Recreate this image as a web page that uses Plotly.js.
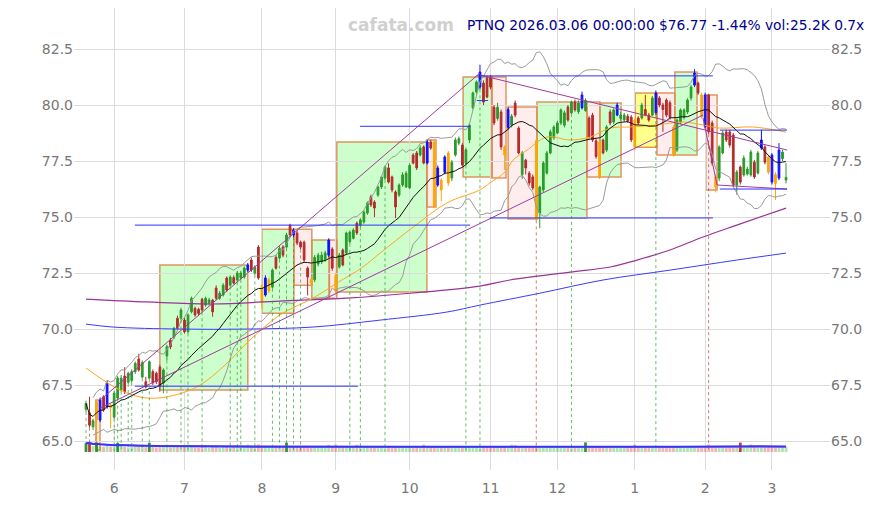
<!DOCTYPE html>
<html><head><meta charset="utf-8">
<script src="https://cdn.plot.ly/plotly-3.0.1.min.js"></script>
<style>html,body{margin:0;padding:0;background:#fff}#chart{width:875px;height:505px}</style>
</head><body><div id="chart"></div>
<script>
// ---- data (index = trading day, 2025-05-20 .. 2026-03-06) ----
const monthTickIdx = [8, 28, 50, 71, 92, 115, 134, 156, 176, 195];
const monthTickLabels = ['6','7','8','9','10','11','12','1','2','3'];
const priceTicks = [65.0, 67.5, 70.0, 72.5, 75.0, 77.5, 80.0, 82.5];

const openP = [66.42,66.26,65.64,65.94,65.94,66.98,66.52,66.60,66.07,66.92,
67.28,67.90,67.63,67.70,68.10,68.66,67.86,67.65,67.81,68.10,
68.03,68.30,67.59,68.80,69.50,69.63,70.48,70.48,70.40,69.88,
70.77,70.92,70.88,71.33,71.07,71.15,71.29,71.83,71.38,71.52,
72.28,71.96,72.30,72.19,72.28,72.32,72.63,73.08,72.50,73.66,
71.90,71.52,71.70,71.87,73.20,73.17,73.66,73.66,74.64,74.20,
74.29,73.88,73.88,72.72,72.20,72.20,72.90,73.00,73.10,73.30,
73.57,72.40,72.77,73.53,73.40,73.90,74.05,74.73,74.64,74.78,
75.18,75.90,75.67,75.98,76.34,76.74,77.19,76.79,76.12,75.98,
76.43,76.34,76.30,77.77,77.86,77.77,78.13,77.41,78.35,78.35,
76.43,76.65,77.00,77.86,76.74,77.77,78.30,78.21,77.40,78.44,
79.87,80.58,80.80,80.98,81.20,81.25,79.90,79.40,79.69,78.13,
79.00,79.10,80.09,78.97,76.90,77.54,76.96,76.79,78.40,75.18,
76.21,76.96,77.86,78.53,78.75,79.20,79.10,79.91,79.65,80.13,
79.70,79.87,79.75,79.42,79.55,78.40,78.35,78.44,77.99,79.69,
79.24,79.55,79.40,79.33,79.50,79.46,79.33,79.42,79.42,79.80,
79.55,79.55,79.65,80.31,80.00,80.22,80.10,79.00,77.99,79.24,
79.45,79.69,80.31,80.89,80.98,80.45,80.45,80.45,79.20,76.79,
76.74,77.86,78.80,78.80,78.66,76.43,77.23,76.88,76.92,76.88,
77.45,76.96,78.08,78.13,77.68,77.77,76.90,76.74,77.60,76.65];
const highP = [66.80,66.98,66.00,66.85,66.95,67.05,67.70,66.70,67.25,67.90,
67.95,68.30,68.10,68.20,68.55,68.90,68.60,67.87,68.60,68.20,
68.10,68.40,68.25,69.30,69.60,70.10,70.60,70.95,70.50,70.70,
71.45,71.00,70.95,71.40,71.45,71.40,71.35,71.95,71.70,72.05,
72.35,72.40,72.40,72.60,72.60,72.80,72.95,73.20,72.85,73.75,
72.00,72.40,72.30,72.70,73.30,73.70,73.75,74.30,74.70,74.50,
74.40,73.95,73.95,72.80,72.30,73.30,73.40,73.45,73.50,74.05,
73.65,72.50,73.40,73.60,74.35,74.40,74.50,74.80,74.95,75.30,
75.70,76.00,75.75,76.40,76.85,77.30,77.40,76.85,76.20,76.50,
77.00,77.05,77.40,77.85,77.95,78.20,78.20,78.45,78.45,78.45,
77.30,76.75,77.75,77.95,77.55,78.55,78.60,78.30,78.10,79.20,
80.60,81.10,81.80,81.10,81.30,81.35,80.00,80.10,79.80,78.20,
79.90,79.60,80.20,79.05,77.95,77.60,77.05,76.90,78.50,76.40,
77.50,77.95,78.90,79.10,79.30,79.85,79.75,80.00,80.20,80.25,
80.20,80.60,80.30,79.50,79.65,78.50,78.45,78.50,79.10,79.80,
79.85,80.10,79.70,79.65,79.60,79.55,79.40,79.50,80.10,80.45,
79.65,80.40,80.65,80.40,80.10,80.30,80.20,79.10,79.40,79.85,
79.85,80.30,80.90,81.60,81.05,80.55,80.55,80.50,79.30,76.90,
78.20,78.85,78.90,78.90,78.75,77.10,77.30,77.75,77.25,78.00,
77.55,77.95,78.90,78.20,77.75,77.85,77.00,78.30,78.00,77.40];
const lowP = [66.30,65.60,65.50,64.60,65.85,66.30,66.45,65.58,66.00,66.85,
67.20,67.10,67.55,67.60,68.00,68.10,67.80,67.35,67.75,67.50,
67.55,67.20,67.14,68.60,69.10,69.55,69.95,70.40,69.80,69.80,
70.70,70.55,70.60,70.75,71.00,71.05,70.55,71.30,71.30,71.45,
71.65,71.90,72.00,72.10,72.20,72.25,72.55,72.55,72.40,72.20,
70.90,71.45,71.60,71.80,72.65,73.10,73.20,73.60,74.10,74.10,
73.75,73.55,73.00,71.50,71.90,72.10,72.80,72.90,73.00,73.20,
72.60,71.60,72.70,72.80,73.30,73.80,74.00,74.20,74.55,74.70,
75.10,75.45,75.00,75.90,76.25,76.65,76.50,76.10,74.95,75.90,
76.35,76.30,76.25,77.35,77.10,77.70,77.35,77.35,78.00,75.40,
76.35,75.70,76.90,76.40,76.60,77.70,78.20,77.25,77.30,78.30,
79.80,80.50,80.70,80.00,80.30,80.70,79.10,79.30,78.00,77.10,
78.90,79.00,79.45,77.80,76.70,76.90,76.40,76.20,74.85,74.50,
76.10,76.90,77.80,78.45,78.70,79.10,79.00,79.25,79.60,79.70,
79.60,79.80,79.70,78.50,78.35,77.60,76.70,77.80,77.90,79.10,
79.15,79.50,79.30,79.25,79.20,78.35,78.00,79.10,79.35,79.50,
79.25,79.50,79.55,79.90,78.80,79.45,79.35,77.70,77.90,79.15,
79.35,79.60,80.20,80.80,80.45,79.40,78.95,78.70,77.30,76.10,
76.60,77.80,78.35,78.10,76.35,76.00,76.45,76.80,76.85,76.80,
76.70,76.90,78.00,77.35,76.90,76.45,75.76,76.65,77.50,76.50];
const closeP = [66.68,65.71,65.91,66.76,66.83,66.40,67.59,66.50,67.14,67.81,
67.81,67.19,68.03,68.10,68.47,68.17,68.50,67.42,68.54,67.60,
67.65,67.45,68.17,69.21,69.20,70.03,70.03,70.85,69.88,70.63,
71.37,70.63,70.70,70.85,71.37,71.30,70.77,71.38,71.60,71.96,
71.74,72.32,72.05,72.50,72.50,72.72,72.86,72.63,72.75,72.28,
71.20,72.28,72.20,72.63,72.72,73.60,73.30,74.20,74.20,74.42,
73.84,73.66,73.08,72.32,72.05,73.20,73.30,73.30,73.40,73.97,
72.72,71.70,73.30,72.86,74.29,74.33,74.42,74.29,74.87,75.22,
75.63,75.54,75.40,76.34,76.79,77.23,76.56,76.21,75.45,76.43,
76.88,76.96,77.30,77.41,77.19,78.08,77.41,78.35,78.08,75.45,
77.19,76.21,77.68,76.52,77.45,78.44,78.50,77.32,78.00,79.10,
80.54,81.03,81.47,80.13,80.36,80.80,79.20,79.90,78.13,77.77,
79.80,79.50,79.55,77.86,77.86,77.19,76.52,76.30,74.90,76.34,
77.41,77.86,78.80,79.02,79.20,79.78,79.65,79.33,80.13,79.78,
80.09,80.45,80.20,78.57,78.44,77.70,76.79,77.86,79.02,79.20,
79.78,80.00,79.55,79.55,79.30,78.44,78.13,79.20,80.00,79.55,
79.33,80.31,80.54,80.00,79.80,79.55,79.45,77.77,79.33,79.78,
79.78,80.22,80.80,81.43,80.54,79.46,79.02,78.80,77.41,76.34,
78.13,78.75,78.44,78.21,76.43,77.01,76.56,77.63,77.14,77.90,
76.79,77.86,78.44,77.45,77.00,76.56,76.50,77.99,77.90,76.77];
const volumeK = [44,46,30,47,28,26,30,27,25,45,
24,26,23,25,27,26,36,24,46,27,
23,25,26,28,24,27,25,23,26,24,
27,23,22,25,24,21,26,25,22,24,
26,23,24,25,22,24,37,25,26,38,
27,29,26,24,25,23,26,47,28,25,
27,24,26,25,22,24,23,25,24,36,
27,37,24,26,25,23,24,36,25,24,
26,23,25,24,26,22,25,24,27,23,
24,26,25,23,24,27,37,25,26,30,
27,25,24,28,23,25,24,26,25,27,
28,30,26,27,25,24,26,25,27,26,
24,37,35,26,27,25,24,26,31,27,
25,24,26,23,25,24,22,25,26,24,
23,25,48,26,27,25,28,24,26,25,
24,26,23,25,24,27,37,26,24,25,
23,25,26,24,25,27,26,28,25,24,
23,25,27,26,28,25,27,38,30,26,
27,25,24,26,28,25,47,24,26,38,
25,24,27,26,25,28,27,29,26,25.2];
const volHighlightIdx = [0,1,3,9,18,57,142,186];
const blueCandleIdx = [4,6,46,51,59,69,97,100,102,112,120,141,151,162,173,176,192,195,197];
const orangeCandleIdx = [3,7,50,52,64,71,99,101,103,119,128,146,156,167,175,179,194,196];

// long moving averages (index, value)
const ma50Idx = [0,9.7,17.3,25.3,32.4,39.5,46.6,55.1,64.5,71.3,78.7,83.6,93,102.6,112,114.8,119.1,121.4,125.4,131,137.6,143.3,149,154.6,162.3,169.7,175.4,180.2,189.6,199];
const ma50Val = [68.26,67.28,66.92,67.05,67.50,68.39,69.51,70.63,71.38,72.05,72.77,73.39,74.55,75.63,76.21,76.52,77.01,77.54,77.99,78.57,78.44,78.57,78.97,79.02,79.11,79.24,79.11,78.97,79.02,78.79];
const ma100Idx = [0,17.3,36,55,74,93,112,120.5,137.6,149,156.6,166,175.4,185,199];
const ma100Val = [71.34,71.21,71.12,71.25,71.38,71.61,71.92,72.19,72.54,72.77,73.08,73.53,74.11,74.64,75.40];
const ma200Idx = [0,7.7,26.7,45.8,64.5,83.6,102.6,112,129,147,166,185,199];
const ma200Val = [70.22,70.09,70.00,70.00,70.09,70.40,70.76,71.07,71.60,72.19,72.63,73.08,73.39];

// trend lines [startIdx, startPrice, endIdx, endPrice]
const trendLines = [
  [4, 66.83, 112, 81.43],
  [4, 66.47, 175.4, 79.55],
  [112, 81.34, 199.3, 77.99],
  [175.4, 79.42, 179.4, 76.43],
  [179.4, 76.43, 199.3, 76.25]
];
// horizontal levels [startIdx, endIdx, price]
const levelLines = [
  [13.9, 109.2, 74.64], [77.9, 109.2, 79.05], [13.9, 77.3, 67.45],
  [111.1, 178.2, 81.30], [111.1, 114.3, 80.20], [114.8, 178.2, 74.96],
  [180.2, 199.3, 78.88], [180.2, 199.3, 76.25]
];
// zones [startIdx, endIdx, top, bottom, kind]
const zones = [
  [21.0, 46.0, 72.86, 67.28, 'g'], [2.8, 4.0, 66.83, 64.60, 'r'],
  [50.0, 59.1, 74.46, 70.71, 'g'], [59.1, 64.2, 74.46, 71.96, 'r'],
  [64.2, 69.2, 73.97, 71.38, 'g'], [69.1, 71.3, 73.97, 71.38, 'r'],
  [71.3, 96.9, 78.35, 71.65, 'g'], [96.9, 99.5, 78.44, 75.45, 'r'],
  [107.2, 115.4, 81.25, 76.79, 'g'], [115.4, 119.4, 81.25, 76.74, 'r'],
  [120.0, 128.2, 79.91, 74.91, 'r'], [128.2, 142.4, 80.13, 74.96, 'g'],
  [142.4, 146.1, 80.13, 76.79, 'r'], [146.1, 152.1, 80.09, 76.79, 'g'],
  [156.1, 162.3, 80.54, 78.12, 'y'], [162.3, 167.4, 80.54, 77.77, 'r'],
  [167.4, 173.7, 81.47, 77.77, 'g'], [176.2, 179.4, 80.45, 76.21, 'r']
];
const signalUpIdx = [0,8,9,10,12,13,16,18,23,27,29,33,41,43,44,48,53,55,57,59,61,75,78,85,108,112,138,162];
const signalDnIdx = [1,128,177];

// ---- derived ----
const N = closeP.length;
const idx = Array.from({length: N}, (_, i) => i);
function rollMean(a, n) { return a.map((_, i) => { const s = a.slice(Math.max(0, i - n + 1), i + 1); return s.reduce((p, c) => p + c, 0) / s.length; }); }
const sma20 = rollMean(closeP, 20);
const bbUp = [], bbDn = [];
closeP.forEach((_, i) => {
  const s = closeP.slice(Math.max(0, i - 19), i + 1);
  const m = s.reduce((p, c) => p + c, 0) / s.length;
  const sd = Math.sqrt(s.reduce((p, c) => p + (c - m) * (c - m), 0) / s.length);
  bbUp.push(i < 2 ? null : m + 2 * sd); bbDn.push(i < 2 ? null : m - 2 * sd);
});
const volMa20 = rollMean(volumeK, 20);
const volMa50 = rollMean(volumeK, 50);
const special = new Set([...blueCandleIdx, ...orangeCandleIdx]);
const pick = (arr, set) => arr.map((v, i) => set.has(i) ? v : null);
const normSet = new Set(idx.filter(i => !special.has(i)));
const blueSet = new Set(blueCandleIdx), orangeSet = new Set(orangeCandleIdx);
const hiSet = new Set(volHighlightIdx);

const GREEN = '#2a9a2a', RED = '#b52a2a';
const traces = [];
traces.push({x: idx, y: bbUp, type: 'scatter', mode: 'lines', line: {color: '#9a9a9a', width: 1}, hoverinfo: 'skip'});
traces.push({x: idx, y: bbDn, type: 'scatter', mode: 'lines', line: {color: '#9a9a9a', width: 1}, hoverinfo: 'skip'});
traces.push({x: ma200Idx, y: ma200Val, type: 'scatter', mode: 'lines', line: {color: '#3a3aff', width: 1, shape: 'spline'}, hoverinfo: 'skip'});
traces.push({x: ma100Idx, y: ma100Val, type: 'scatter', mode: 'lines', line: {color: '#993399', width: 1.2, shape: 'spline'}, hoverinfo: 'skip'});
traces.push({x: ma50Idx, y: ma50Val, type: 'scatter', mode: 'lines', line: {color: '#ffa520', width: 1, shape: 'spline'}, hoverinfo: 'skip'});
traces.push({x: idx, y: sma20, type: 'scatter', mode: 'lines', line: {color: '#111', width: 1}, hoverinfo: 'skip'});
trendLines.forEach(t => traces.push({x: [t[0], t[2]], y: [t[1], t[3]], type: 'scatter', mode: 'lines', line: {color: '#a03aa0', width: 1}, hoverinfo: 'skip'}));
levelLines.forEach(l => traces.push({x: [l[0], l[1]], y: [l[2], l[2]], type: 'scatter', mode: 'lines', line: {color: '#3030ff', width: 1}, hoverinfo: 'skip'}));
const sigX = [], sigY = [], sigDX = [], sigDY = [];
signalUpIdx.forEach(i => { sigX.push(i, i, null); sigY.push(lowP[i], 64.55, null); });
signalDnIdx.forEach(i => { sigDX.push(i, i, null); sigDY.push(lowP[i], 64.55, null); });
traces.push({x: sigX, y: sigY, type: 'scatter', mode: 'lines', line: {color: 'rgba(40,160,40,0.7)', width: 1, dash: 'dot'}, hoverinfo: 'skip'});
traces.push({x: sigDX, y: sigDY, type: 'scatter', mode: 'lines', line: {color: 'rgba(190,60,60,0.7)', width: 1, dash: 'dot'}, hoverinfo: 'skip'});
traces.push({type: 'candlestick', x: idx, open: pick(openP, normSet), high: pick(highP, normSet), low: pick(lowP, normSet), close: pick(closeP, normSet),
  increasing: {line: {color: GREEN, width: 1}, fillcolor: GREEN}, decreasing: {line: {color: RED, width: 1}, fillcolor: RED}, whiskerwidth: 0, hoverinfo: 'skip'});
traces.push({type: 'candlestick', x: idx, open: pick(openP, blueSet), high: pick(highP, blueSet), low: pick(lowP, blueSet), close: pick(closeP, blueSet),
  increasing: {line: {color: '#1010ff', width: 1}, fillcolor: '#1010ff'}, decreasing: {line: {color: '#1010ff', width: 1}, fillcolor: '#1010ff'}, whiskerwidth: 0, hoverinfo: 'skip'});
traces.push({type: 'candlestick', x: idx, open: pick(openP, orangeSet), high: pick(highP, orangeSet), low: pick(lowP, orangeSet), close: pick(closeP, orangeSet),
  increasing: {line: {color: '#ffa500', width: 1}, fillcolor: '#ffa500'}, decreasing: {line: {color: '#ffa500', width: 1}, fillcolor: '#ffa500'}, whiskerwidth: 0, hoverinfo: 'skip'});
const volColors = idx.map(i => {
  const up = closeP[i] >= openP[i];
  if (hiSet.has(i)) return up ? 'rgba(30,140,30,0.9)' : 'rgba(180,40,40,0.9)';
  return up ? 'rgba(40,170,40,0.35)' : 'rgba(200,50,50,0.35)';
});
traces.push({type: 'bar', x: idx, y: volumeK, yaxis: 'y2', marker: {color: volColors, line: {width: 0}}, hoverinfo: 'skip'});
traces.push({x: idx, y: volMa50, yaxis: 'y2', type: 'scatter', mode: 'lines', line: {color: '#b050b0', width: 1.5}, hoverinfo: 'skip'});
traces.push({x: idx, y: volMa20, yaxis: 'y2', type: 'scatter', mode: 'lines', line: {color: '#3535ff', width: 2}, hoverinfo: 'skip'});
traces.push({x: [0], y: [70], yaxis: 'y3', type: 'scatter', mode: 'markers', marker: {opacity: 0}, hoverinfo: 'skip'});

const zoneFill = {g: 'rgba(0,255,0,0.2)', r: 'rgba(255,60,60,0.09)', y: 'rgba(255,255,0,0.45)'};
const shapes = zones.map(z => ({type: 'rect', xref: 'x', yref: 'y', x0: z[0], x1: z[1], y0: z[3], y1: z[2],
  fillcolor: zoneFill[z[4]], line: {color: 'rgba(220,140,80,0.9)', width: 1.5}, layer: 'below'}));

const yRange = [63.71, 84.33];
const tickTxt = priceTicks.map(v => v.toFixed(1));
const layout = {
  width: 875, height: 505, showlegend: false,
  margin: {l: 74, r: 45, t: 8, b: 35},
  paper_bgcolor: '#fff', plot_bgcolor: '#fff',
  font: {family: 'DejaVu Sans', size: 14, color: '#777'},
  xaxis: {range: [-3.41, 211.5], tickvals: monthTickIdx, ticktext: monthTickLabels, showgrid: true, gridcolor: '#dcdcdc', gridwidth: 1,
    zeroline: false, showline: false, ticks: '', rangeslider: {visible: false}, tickfont: {size: 14, color: '#777'}, ticklabelstandoff: 8},
  yaxis: {range: yRange, tickvals: priceTicks, ticktext: tickTxt, showgrid: true, gridcolor: '#dcdcdc', zeroline: false, showline: false, ticks: '', tickfont: {size: 14, color: '#777'}},
  yaxis2: {range: [-90, 2220], overlaying: 'y', visible: false},
  yaxis3: {range: yRange, overlaying: 'y', side: 'right', tickvals: priceTicks, ticktext: tickTxt, showgrid: false, zeroline: false, showline: false, ticks: '', tickfont: {size: 14, color: '#777'}},
  shapes: shapes,
  annotations: [
    {text: 'cafata.com', xref: 'paper', yref: 'paper', x: 0.4325, y: 0.963, xanchor: 'center', yanchor: 'middle', showarrow: false, font: {family: 'DejaVu Sans', size: 17, color: '#d0d0d0', weight: 'bold'}},
    {text: 'PTNQ 2026.03.06 00:00:00 $76.77 -1.44% vol:25.2K 0.7x', xref: 'paper', yref: 'paper', x: 1.0476, y: 0.963, xanchor: 'right', yanchor: 'middle', showarrow: false, font: {family: 'DejaVu Sans', size: 13.8, color: '#00008b'}}
  ]
};
Plotly.newPlot('chart', traces, layout, {staticPlot: true, displayModeBar: false});
</script></body></html>
